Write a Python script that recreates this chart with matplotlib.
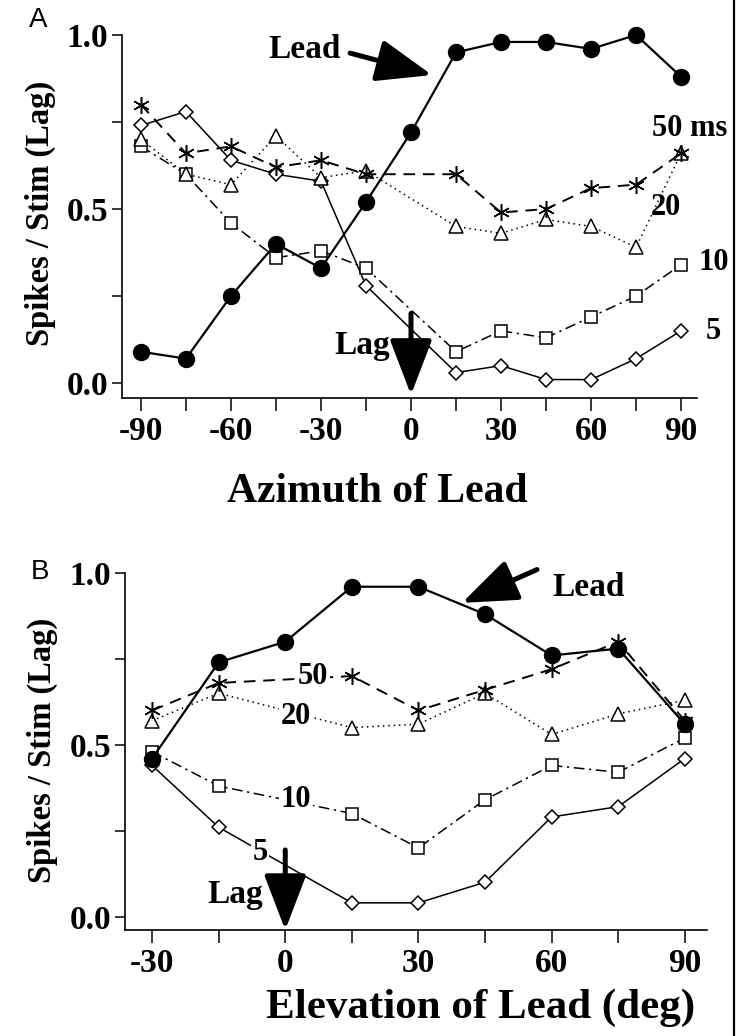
import matplotlib.pyplot as plt
from matplotlib.lines import Line2D

W, H = 743, 1036

# A: spikes per lag stimulus vs. azimuth of the lead (lag fixed at 0 deg)
az = [-90, -75, -60, -45, -30, -15, 0, 15, 30, 45, 60, 75, 90]
az_lag = [-90, -75, -60, -45, -30, -15, 15, 30, 45, 60, 75, 90]
az_lead = [0.09, 0.07, 0.25, 0.40, 0.33, 0.52, 0.72, 0.95, 0.98, 0.98, 0.96, 1.00, 0.88]
az_50 = [0.80, 0.66, 0.68, 0.62, 0.64, 0.60, 0.60, 0.49, 0.50, 0.56, 0.57, 0.66]
az_20 = [0.70, 0.60, 0.57, 0.71, 0.59, 0.61, 0.45, 0.43, 0.47, 0.45, 0.39, 0.66]
az_10 = [0.68, 0.60, 0.46, 0.36, 0.38, 0.33, 0.09, 0.15, 0.13, 0.19, 0.25, 0.34]
az_5 = [0.74, 0.78, 0.64, 0.60, 0.58, 0.28, 0.03, 0.05, 0.01, 0.01, 0.07, 0.15]

# B: same, vs. elevation of the lead
el = [-30, -15, 0, 15, 30, 45, 60, 75, 90]
el_lag = [-30, -15, 15, 30, 45, 60, 75, 90]
el_lead = [0.46, 0.74, 0.80, 0.96, 0.96, 0.88, 0.76, 0.78, 0.56]
el_50 = [0.60, 0.68, 0.70, 0.60, 0.66, 0.72, 0.80, 0.57]
el_20 = [0.57, 0.65, 0.55, 0.56, 0.65, 0.53, 0.59, 0.63]
el_10 = [0.48, 0.38, 0.30, 0.20, 0.34, 0.44, 0.42, 0.52]
el_5 = [0.44, 0.26, 0.04, 0.04, 0.10, 0.29, 0.32, 0.46]

serif = 'Liberation Serif'
plt.rcParams['font.family'] = serif
plt.rcParams['font.weight'] = 'bold'

fig = plt.figure(figsize=(W / 100, H / 100), dpi=100)

axA = fig.add_axes([122 / W, 1 - 398 / H, (697 - 122) / W, (398 - 35) / H])
axB = fig.add_axes([125 / W, 1 - 930 / H, (707 - 125) / W, (930 - 573) / H])


def draw_lag(ax, x, s5, s10, s20, s50):
    common = dict(color='k', lw=1.1, mfc='white', mec='k', mew=1.1, clip_on=False)
    ax.plot(x, s5, marker='D', ms=7.5, ls='-', zorder=3, **common)
    ax.plot(x, s10, marker='s', ms=8.5, ls=(0, (7, 3, 1.5, 3)), zorder=3, **common)
    ax.plot(x, s20, marker='^', ms=10, ls=(0, (1, 2.5)), zorder=3, **common)
    ax.plot(x, s50, marker=(6, 2, 0), ms=12, ls=(0, (6, 4)), mew=1.1,
            color='k', lw=1.4, clip_on=False, zorder=4)


def draw_lead(ax, x, y):
    ax.plot(x, y, marker='o', ms=11.5, color='k', lw=1.6, clip_on=False, zorder=5)


def style(ax, xlim, ylim, xticks, xlabels):
    ax.set_xlim(*xlim)
    ax.set_ylim(*ylim)
    ax.set_xticks(xticks)
    ax.set_xticklabels(xlabels)
    ax.set_yticks([0, 0.25, 0.5, 0.75, 1.0])
    ax.set_yticklabels(['0.0', '', '0.5', '', '1.0'])
    for side in ['top', 'right']:
        ax.spines[side].set_visible(False)
    for side in ['left', 'bottom']:
        ax.spines[side].set_linewidth(1.2)
    ax.tick_params(axis='x', direction='out', length=9, width=1.1, pad=4, labelsize=24)
    ax.tick_params(axis='y', direction='out', length=7, width=1.1, pad=3, labelsize=24)


# panel A
draw_lag(axA, az_lag, az_5, az_10, az_20, az_50)
draw_lead(axA, az, az_lead)
style(axA, (-96.3, 95.3), (-0.043, 1.0), list(range(-90, 91, 15)),
      ['-90', '', '-60', '', '-30', '', '0', '', '30', '', '60', '', '90'])

arrow = dict(arrowstyle='-|>,head_length=1.7,head_width=0.65', lw=3.6, color='k',
             mutation_scale=20, shrinkA=0, shrinkB=0)
axA.annotate('', xy=(7, 0.885), xytext=(-20.3, 0.948), arrowprops=arrow, zorder=6)
axA.annotate('', xy=(0, -0.034), xytext=(0, 0.20), arrowprops=arrow, zorder=6)
axA.text(-35.3, 0.957, 'Lead', fontsize=24, ha='center', va='center')
axA.text(-16.3, 0.109, 'Lag', fontsize=24, ha='center', va='center')

axA.text(92.7, 0.73, '50 ms', fontsize=22, ha='center', va='center')
axA.text(85, 0.503, '20', fontsize=22, ha='center', va='center')
axA.text(101, 0.345, '10', fontsize=22, ha='center', va='center')
axA.text(100.7, 0.147, '5', fontsize=22, ha='center', va='center')

# panel B
draw_lag(axB, el_lag, el_5, el_10, el_20, el_50)
draw_lead(axB, el, el_lead)
style(axB, (-36.1, 95.0), (-0.039, 1.0), list(range(-30, 91, 15)),
      ['-30', '', '0', '', '30', '', '60', '', '90'])

axB.annotate('', xy=(39.8, 0.913), xytext=(56.7, 1.01), arrowprops=arrow, zorder=6)
axB.annotate('', xy=(0, -0.039), xytext=(0, 0.194), arrowprops=arrow, zorder=6)
axB.text(68.4, 0.957, 'Lead', fontsize=24, ha='center', va='center')
axB.text(-11.3, 0.063, 'Lag', fontsize=24, ha='center', va='center')

box = dict(fc='white', ec='none', pad=1)
axB.text(6.3, 0.698, '50', fontsize=22, ha='center', va='center', bbox=box, zorder=7)
axB.text(2.4, 0.582, '20', fontsize=22, ha='center', va='center', bbox=box, zorder=7)
axB.text(2.4, 0.340, '10', fontsize=22, ha='center', va='center', bbox=box, zorder=7)
axB.text(-5.7, 0.188, '5', fontsize=22, ha='center', va='center', bbox=box, zorder=7)

# axis titles and panel letters
fig.text(40 / W, 1 - 213 / H, 'Spikes / Stim (Lag)', rotation=90, fontsize=23.5,
         ha='center', va='center')
fig.text(42 / W, 1 - 750 / H, 'Spikes / Stim (Lag)', rotation=90, fontsize=23.5,
         ha='center', va='center')
fig.text(377 / W, 1 - 492 / H, 'Azimuth of Lead', fontsize=30, ha='center', va='center')
fig.text(481 / W, 1 - 1008 / H, 'Elevation of Lead (deg)', fontsize=31,
         ha='center', va='center')
fig.text(38 / W, 1 - 20 / H, 'A', family='Liberation Sans', weight='normal',
         fontsize=20, ha='center', va='center')
fig.text(40 / W, 1 - 572 / H, 'B', family='Liberation Sans', weight='normal',
         fontsize=20, ha='center', va='center')

# frame line along the right edge
fig.add_artist(Line2D([733.5 / W, 733.5 / W], [0, 1], transform=fig.transFigure,
                      color='k', lw=1.6))

fig.savefig('out.png', dpi=100)
